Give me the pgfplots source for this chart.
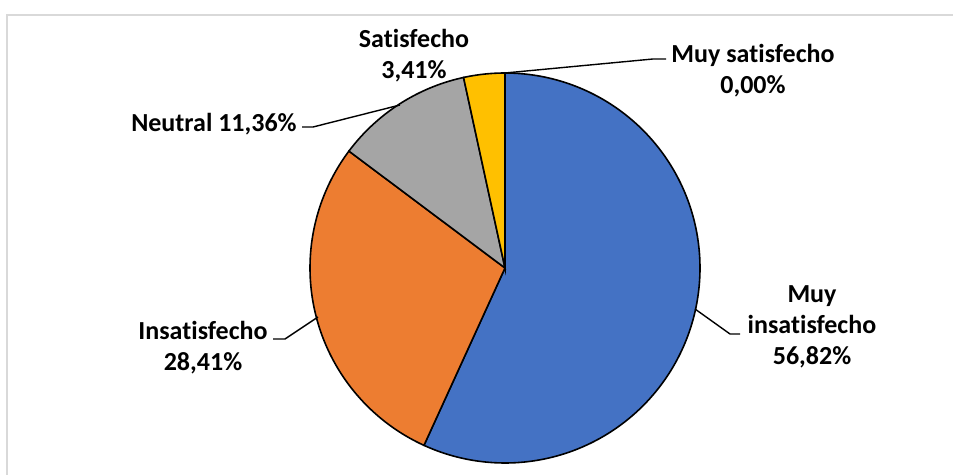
\documentclass[border=0pt]{standalone}
\usepackage{pgfplots}
\pgfplotsset{compat=1.18}
\usepackage{pgfplotstable}
\usepackage{fontspec}
\setmainfont{Carlito}[Ligatures=NoCommon]
\definecolor{cBlue}{HTML}{4472C4}
\definecolor{cOrange}{HTML}{ED7D31}
\definecolor{cGray}{HTML}{A5A5A5}
\definecolor{cYellow}{HTML}{FFC000}
\definecolor{cBorder}{HTML}{D9D9D9}
% Pie data (percent), in Excel order (clockwise from 12 o'clock)
\pgfplotstableread{
label value
MuyInsatisfecho 56.82
Insatisfecho 28.41
Neutral 11.36
Satisfecho 3.41
MuySatisfecho 0.00
}\piedata
\pgfplotstablegetelem{0}{value}\of\piedata \let\vA\pgfplotsretval
\pgfplotstablegetelem{1}{value}\of\piedata \let\vB\pgfplotsretval
\pgfplotstablegetelem{2}{value}\of\piedata \let\vC\pgfplotsretval
\pgfplotstablegetelem{3}{value}\of\piedata \let\vD\pgfplotsretval
\pgfmathsetmacro{\aA}{90}
\pgfmathsetmacro{\aB}{90-3.6*\vA}
\pgfmathsetmacro{\aC}{\aB-3.6*\vB}
\pgfmathsetmacro{\aD}{\aC-3.6*\vC}
\pgfmathsetmacro{\aE}{\aD-3.6*\vD}
\tikzset{lbl/.style={font=\fontsize{13}{15.5}\selectfont\bfseries, align=center, text=black, inner sep=0pt}}
\begin{document}
\begin{tikzpicture}
\begin{axis}[
  scale only axis, width=476.5pt, height=237.5pt,
  xmin=0, xmax=953, ymin=0, ymax=475, y dir=reverse,
  hide axis, clip=false,
]
% chart area border
\addplot[cBorder, line width=1pt, no marks] coordinates {(7,475) (7,15) (953,15)};
% slices
\addplot[fill=cBlue, draw=black, line width=0.8pt, domain=\aB:\aA, samples=120, smooth]
  ({505+195*cos(x)},{268-195*sin(x)}) -- (axis cs:505,268) -- cycle;
\addplot[fill=cOrange, draw=black, line width=0.8pt, domain=\aC:\aB, samples=70, smooth]
  ({505+195*cos(x)},{268-195*sin(x)}) -- (axis cs:505,268) -- cycle;
\addplot[fill=cGray, draw=black, line width=0.8pt, domain=\aD:\aC, samples=40, smooth]
  ({505+195*cos(x)},{268-195*sin(x)}) -- (axis cs:505,268) -- cycle;
\addplot[fill=cYellow, draw=black, line width=0.8pt, domain=\aE:\aD, samples=15, smooth]
  ({505+195*cos(x)},{268-195*sin(x)}) -- (axis cs:505,268) -- cycle;
% leader lines
\addplot[black, line width=0.7pt, no marks] coordinates {(505,73) (653,59) (666,59)};
\addplot[black, line width=0.7pt, no marks] coordinates {(400,105) (313,127) (302,127)};
\addplot[black, line width=0.7pt, no marks] coordinates {(318,317) (285,339) (273,339)};
\addplot[black, line width=0.7pt, no marks] coordinates {(695,309) (730,334) (740,334)};
% labels
\node[lbl] at (axis cs:753,71) {Muy satisfecho\\0,00\%};
\node[lbl] at (axis cs:414,56) {Satisfecho\\3,41\%};
\node[lbl, anchor=east] at (axis cs:297,124) {Neutral 11,36\%};
\node[lbl] at (axis cs:203,348) {Insatisfecho\\28,41\%};
\node[lbl] at (axis cs:812,327) {Muy\\insatisfecho\\56,82\%};
\end{axis}
\pgfresetboundingbox
\path (current axis.south west) rectangle (current axis.north east);
\end{tikzpicture}
\end{document}
